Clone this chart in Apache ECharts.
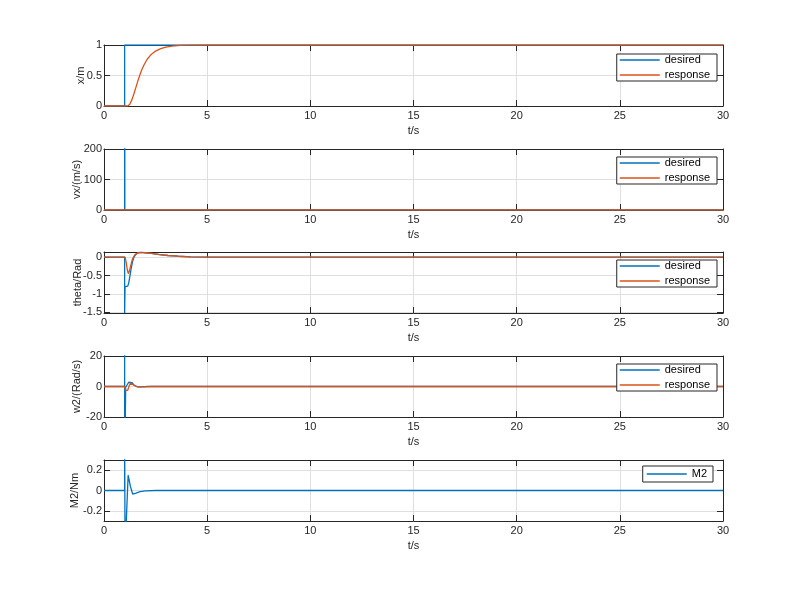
<!DOCTYPE html>
<html>
<head>
<meta charset="utf-8">
<script src="https://cdn.jsdelivr.net/npm/echarts@6/dist/echarts.min.js"></script>
<style>html,body{margin:0;padding:0;background:#fff}#c{width:800px;height:600px}</style>
</head>
<body>
<div id="c"></div>
<script>
// ---- data ----
const xTicks = [0, 5, 10, 15, 20, 25, 30];

const tXd = [0, 1, 1, 30];
const xDesired = [0, 0, 1, 1];
const tXr = [0, 1.15, 1.25, 1.35, 1.45, 1.55, 1.65, 1.75, 1.85, 1.95, 2.1, 2.3, 2.5, 2.75, 3.0, 3.3, 3.7, 4.2, 5, 30];
const xResponse = [0, 0, 0.03, 0.1, 0.2, 0.31, 0.42, 0.52, 0.61, 0.68, 0.77, 0.85, 0.9, 0.94, 0.965, 0.983, 0.993, 0.998, 1, 1];

const tVd = [0, 1, 1, 1.01, 30];
const vxDesired = [0, 0, 1000, 0, 0];
const tVr = [0, 1, 2, 5, 30];
const vxResponse = [0, 0, 0, 0, 0];

const tTd = [0, 1, 1, 1.02, 1.15, 1.2, 1.26, 1.32, 1.38, 1.45, 1.55, 1.65, 1.8, 2.0, 2.3, 2.7, 3.1, 3.6, 4.2, 5, 30];
const thetaDesired = [0, 0, -1.52, -0.8, -0.79, -0.7, -0.5, -0.3, -0.13, 0.0, 0.08, 0.12, 0.13, 0.12, 0.1, 0.07, 0.045, 0.025, 0.01, 0.003, 0];
const tTr = [0, 1.02, 1.08, 1.13, 1.18, 1.23, 1.3, 1.38, 1.5, 1.65, 1.8, 2.0, 2.3, 2.7, 3.1, 3.6, 4.2, 5, 30];
const thetaResponse = [0, 0, -0.15, -0.35, -0.45, -0.38, -0.22, -0.05, 0.07, 0.12, 0.13, 0.12, 0.1, 0.07, 0.045, 0.025, 0.01, 0.003, 0];

const tWd = [0, 1, 1, 1, 1.05, 1.12, 1.2, 1.27, 1.35, 1.45, 1.6, 1.8, 2.1, 30];
const w2Desired = [0, 0, 60, -60, -0.5, 0.5, 2.8, 3.6, 2.6, 1.0, -0.2, -0.3, 0, 0];
const tWr = [0, 1.0, 1.05, 1.1, 1.15, 1.22, 1.29, 1.38, 1.5, 1.65, 1.9, 2.3, 30];
const w2Response = [0, 0, -2.5, -3.8, -2.5, 0.5, 2.2, 1.6, 0.5, -0.3, -0.3, 0, 0];

const tM = [0, 1, 1, 1.02, 1.17, 1.28, 1.39, 1.55, 1.75, 2.0, 2.5, 30];
const m2 = [0, 0, 0.6, -0.6, 0.15, 0.04, -0.035, -0.025, -0.012, -0.004, 0, 0];

const yNames = ['x/m', 'vx/(m/s)', 'theta/Rad', 'w2/(Rad/s)', 'M2/Nm'];
// ---- layout ----
const tops = [45, 149, 252, 356, 460];
const yRanges = [
  {min: 0, max: 1, interval: 0.5, hideEnds: false, gap: 18},
  {min: 0, max: 200, interval: 100, hideEnds: false, gap: 21.5},
  {min: -1.52, max: 0.14, splitNumber: 3, hideEnds: true, gap: 20.5},
  {min: -20, max: 20, interval: 20, hideEnds: false, gap: 21.5},
  {min: -0.3, max: 0.3, splitNumber: 3, hideEnds: true, gap: 23.5}
];
const BLUE = '#0072BD', ORANGE = '#D95319', INK = '#262626';
const FONT = 'Liberation Sans, Arial, Helvetica, sans-serif';

function pairs(t, v) { return t.map((x, i) => [x, v[i]]); }

const grid = [], xAxis = [], yAxis = [], series = [], legend = [];
tops.forEach((top, i) => {
  grid.push({left: 104, right: 77, top: top, height: 61, containLabel: false});
  const xBase = {
    type: 'value', gridIndex: i, min: 0, max: 30, interval: 5,
    axisLine: {show: true, onZero: false, lineStyle: {color: INK, width: 1}},
    axisTick: {show: true, inside: true, length: 6, lineStyle: {color: INK}},
    splitLine: {show: false}
  };
  xAxis.push(Object.assign({}, xBase, {
    position: 'bottom',
    name: 't/s', nameLocation: 'middle', nameGap: 19, nameMoveOverlap: false,
    nameTextStyle: {color: INK, fontSize: 11, fontFamily: FONT},
    axisLabel: {show: true, margin: 4, color: INK, fontSize: 11, fontFamily: FONT},
    splitLine: {show: true, lineStyle: {color: '#dfdfdf', width: 1}}
  }));
  xAxis.push(Object.assign({}, xBase, {position: 'top', axisLabel: {show: false}}));
  const r = yRanges[i];
  const yBase = {
    type: 'value', gridIndex: i, min: r.min, max: r.max,
    axisLine: {show: true, onZero: false, lineStyle: {color: INK, width: 1}},
    axisTick: {show: true, inside: true, length: 6, lineStyle: {color: INK}},
    splitLine: {show: false}
  };
  if (r.interval) yBase.interval = r.interval; else yBase.splitNumber = r.splitNumber;
  yAxis.push(Object.assign({}, yBase, {
    position: 'left',
    name: yNames[i], nameLocation: 'middle', nameGap: r.gap, nameRotate: 90, nameMoveOverlap: false,
    nameTextStyle: {color: INK, fontSize: 11, fontFamily: FONT},
    axisLabel: {show: true, margin: 2, color: INK, fontSize: 11, fontFamily: FONT,
      showMinLabel: !r.hideEnds, showMaxLabel: !r.hideEnds},
    splitLine: {show: true, lineStyle: {color: '#dfdfdf', width: 1}}
  }));
  yAxis.push(Object.assign({}, yBase, {position: 'right', axisLabel: {show: false}}));
});

function addLine(name, gi, t, v, color) {
  series.push({
    name: name, type: 'line', xAxisIndex: 2 * gi, yAxisIndex: 2 * gi,
    data: pairs(t, v), showSymbol: false, symbol: 'none', clip: true,
    lineStyle: {color: color, width: 1.3}, itemStyle: {color: color},
    animation: false
  });
}
addLine('desired', 0, tXd, xDesired, BLUE);
addLine('response', 0, tXr, xResponse, ORANGE);
addLine('desired', 1, tVd, vxDesired, BLUE);
addLine('response', 1, tVr, vxResponse, ORANGE);
addLine('desired', 2, tTd, thetaDesired, BLUE);
addLine('response', 2, tTr, thetaResponse, ORANGE);
addLine('desired', 3, tWd, w2Desired, BLUE);
addLine('response', 3, tWr, w2Response, ORANGE);
addLine('M2', 4, tM, m2, BLUE);

const legTops = [54, 157, 260, 364];
legTops.forEach(tp => {
  legend.push({
    data: ['desired', 'response'], orient: 'vertical', right: 83, top: tp,
    icon: 'rect', itemWidth: 40, itemHeight: 1.3, itemGap: 3,
    padding: [0, 7, 0, 3], backgroundColor: '#fff', borderColor: INK, borderWidth: 1,
    textStyle: {color: '#000', fontSize: 11, fontFamily: FONT, lineHeight: 12},
    selectedMode: false
  });
});
legend.push({
  data: ['M2'], orient: 'vertical', right: 87, top: 466,
  icon: 'rect', itemWidth: 40, itemHeight: 1.3, itemGap: 3,
  padding: [2, 6, 2, 4], backgroundColor: '#fff', borderColor: INK, borderWidth: 1,
  textStyle: {color: '#000', fontSize: 11, fontFamily: FONT, lineHeight: 12},
  selectedMode: false
});

const chart = echarts.init(document.getElementById('c'), null, {renderer: 'canvas'});
chart.setOption({
  backgroundColor: '#fff', animation: false,
  grid: grid, xAxis: xAxis, yAxis: yAxis, series: series, legend: legend
});
</script>
</body>
</html>
